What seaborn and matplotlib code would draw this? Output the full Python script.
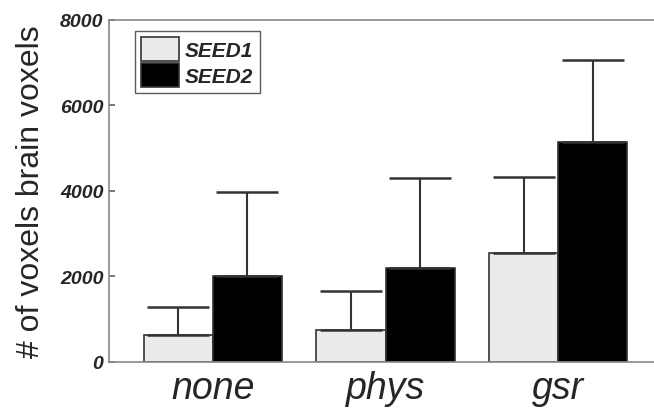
import matplotlib
matplotlib.use("Agg")
import matplotlib.pyplot as plt
import seaborn as sns
import pandas as pd

categories = ["none", "phys", "gsr"]
seeds = ["SEED1", "SEED2"]
seed1_values = [625, 750, 2540]
seed2_values = [1995, 2185, 5145]
seed1_upper = [1280, 1645, 4325]
seed2_upper = [3975, 4300, 7055]
y_ticks = [0, 2000, 4000, 6000, 8000]

rows = []
for c, v in zip(categories, seed1_values):
    rows.append({"cond": c, "seed": "SEED1", "val": v})
for c, v in zip(categories, seed2_values):
    rows.append({"cond": c, "seed": "SEED2", "val": v})
df = pd.DataFrame(rows)

sns.set_theme(style="white")
plt.rcParams["font.family"] = ["Liberation Sans", "DejaVu Sans"]

fig = plt.figure(figsize=(6.54, 4.10), dpi=100)
ax = fig.add_axes([0.1667, 0.1154, 0.8456, 0.834])

palette = {"SEED1": "#ebebeb", "SEED2": "#000000"}
sns.barplot(data=df, x="cond", y="val", hue="seed", order=categories,
            hue_order=seeds, palette=palette, errorbar=None, width=0.8,
            edgecolor="#333333", linewidth=1.2, saturation=1, ax=ax)

uppers = [seed1_upper, seed2_upper]
for cont, up in zip(ax.containers, uppers):
    for bar, u in zip(cont, up):
        x = bar.get_x() + bar.get_width() / 2
        h = bar.get_height()
        ax.errorbar([x], [h], yerr=[[0], [u - h]], fmt="none",
                    ecolor="#333333", elinewidth=1.5, capsize=22,
                    capthick=1.8, zorder=3)

ax.set_xlim(-0.6, 2.6)
ax.set_ylim(0, 8000)
ax.set_yticks(y_ticks)
ax.set_yticklabels([str(t) for t in y_ticks], fontsize=14,
                   fontweight="bold", fontstyle="italic")
ax.set_xticks(range(len(categories)))
ax.set_xticklabels(categories, fontsize=27, fontstyle="italic")
ax.set_xlabel("")
ax.set_ylabel("# of voxels brain voxels", fontsize=23, labelpad=10)

ax.tick_params(axis="y", direction="in", length=4, right=True, left=True,
               color="#666666", pad=4)
ax.tick_params(axis="x", length=0, pad=6)
for s in ax.spines.values():
    s.set_color("#888888")
    s.set_linewidth(1.2)

leg = ax.legend(loc="upper left", bbox_to_anchor=(0.047, 0.967),
                prop={"size": 15, "weight": "bold", "style": "italic"},
                frameon=True, fancybox=False, handlelength=1.8,
                handleheight=1.35, borderpad=0.3, labelspacing=0.12,
                handletextpad=0.3, borderaxespad=0)
leg.get_frame().set_edgecolor("#333333")
leg.get_frame().set_linewidth(1.0)
leg.set_title(None)

fig.savefig("out.png", dpi=100)
